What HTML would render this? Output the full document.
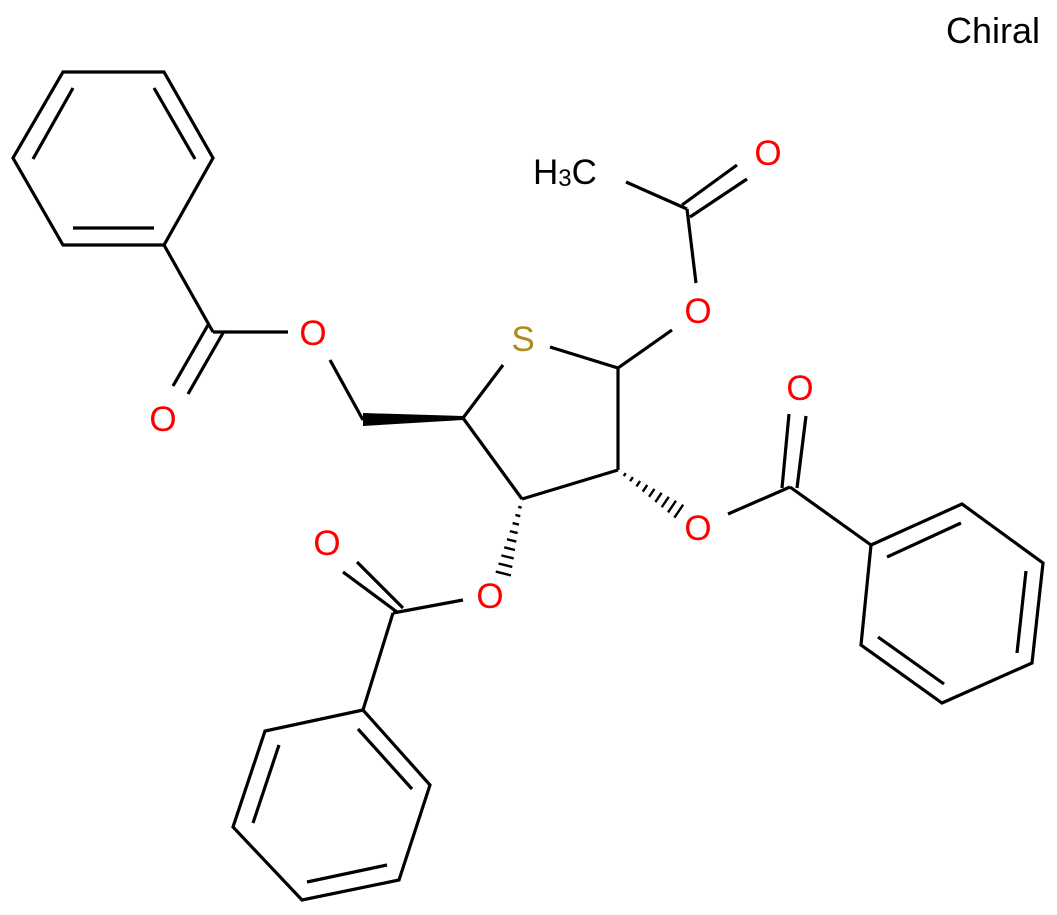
<!DOCTYPE html>
<html><head><meta charset="utf-8"><style>
html,body{margin:0;padding:0;background:#fff;}
svg{display:block;}
text{font-family:"Liberation Sans",Arial,sans-serif;}
</style></head><body>
<svg id="s" width="1057" height="915" viewBox="0 0 1057 915" xmlns="http://www.w3.org/2000/svg">
<g stroke="#000" stroke-width="3.2" fill="none" stroke-linecap="butt">
<polygon points="63,72 164,72 213,158 164,245 63,245 13,158" stroke-linejoin="miter"/>
<line x1="73" y1="88" x2="33" y2="159"/>
<line x1="154" y1="88" x2="195" y2="159"/>
<line x1="73" y1="228" x2="154" y2="228"/>
<line x1="164" y1="245" x2="213" y2="332"/>
<line x1="208" y1="325" x2="173" y2="386"/>
<line x1="223" y1="333" x2="188" y2="394"/>
<line x1="213" y1="332" x2="288" y2="332"/>
<line x1="330" y1="360" x2="363" y2="420"/>
<line x1="463" y1="418" x2="503" y2="365"/>
<line x1="550" y1="347" x2="618" y2="368"/>
<line x1="618" y1="368" x2="618" y2="470"/>
<line x1="618" y1="470" x2="522" y2="499"/>
<line x1="522" y1="499" x2="463" y2="418"/>
<line x1="618" y1="368" x2="672" y2="330"/>
<line x1="696" y1="283" x2="687" y2="209"/>
<line x1="682" y1="205" x2="737" y2="165"/>
<line x1="690" y1="217" x2="747" y2="179"/>
<line x1="626" y1="182" x2="687" y2="209"/>
<line x1="728" y1="514" x2="790" y2="487"/>
<line x1="782" y1="488" x2="789" y2="414"/>
<line x1="797" y1="488" x2="806" y2="416"/>
<line x1="790" y1="487" x2="871" y2="545"/>
<polygon points="871,545 962,504 1043,563 1032,663 942,703 861,645"/>
<line x1="887" y1="557" x2="961" y2="523"/>
<line x1="1026" y1="571" x2="1017" y2="653"/>
<line x1="878" y1="637" x2="944" y2="684"/>
<line x1="463" y1="600" x2="393" y2="613"/>
<line x1="343" y1="572" x2="397" y2="612"/>
<line x1="357" y1="562" x2="403" y2="608"/>
<line x1="393" y1="613" x2="363" y2="710"/>
<polygon points="363,710 265,731 233,827 302,900 399,880 430,785"/>
<line x1="358" y1="729" x2="412" y2="789"/>
<line x1="279" y1="745" x2="253" y2="823"/>
<line x1="307" y1="882" x2="387" y2="865"/>
</g>
<polygon points="463,416 463,420 363,426 363,413" fill="#000"/>
<g id="h" stroke="#000" stroke-width="2.4"></g>
<g font-size="35" text-anchor="middle">
<text x="993" y="43" font-size="36" fill="#000">Chiral</text>
<text x="313" y="345" fill="#f00">O</text>
<text x="163" y="431" fill="#f00">O</text>
<text x="523" y="351" fill="#b08a1a">S</text>
<text x="698" y="323" fill="#f00">O</text>
<text x="768" y="165" fill="#f00">O</text>
<text x="698" y="540" fill="#f00">O</text>
<text x="800" y="400" fill="#f00">O</text>
<text x="490" y="608" fill="#f00">O</text>
<text x="327" y="555" fill="#f00">O</text>
<text x="533" y="184" text-anchor="start" fill="#000">H<tspan font-size="24" dy="2">3</tspan><tspan dy="-2">C</tspan></text>
</g>
</svg>
<script>
(function(){
var g=document.getElementById('h');
function hash(x1,y1,x2,y2,n,w){
 var dx=x2-x1,dy=y2-y1,L=Math.sqrt(dx*dx+dy*dy),px=-dy/L,py=dx/L;
 for(var i=1;i<=n;i++){var t=i/n*0.98,cx=x1+dx*t,cy=y1+dy*t,h=1+w*t;
  var l=document.createElementNS('http://www.w3.org/2000/svg','line');
  l.setAttribute('x1',cx+px*h);l.setAttribute('y1',cy+py*h);
  l.setAttribute('x2',cx-px*h);l.setAttribute('y2',cy-py*h);g.appendChild(l);}
}
hash(618,470,680,512,9,7);
hash(522,499,503,575,9,7);
})();
</script>
</body></html>
